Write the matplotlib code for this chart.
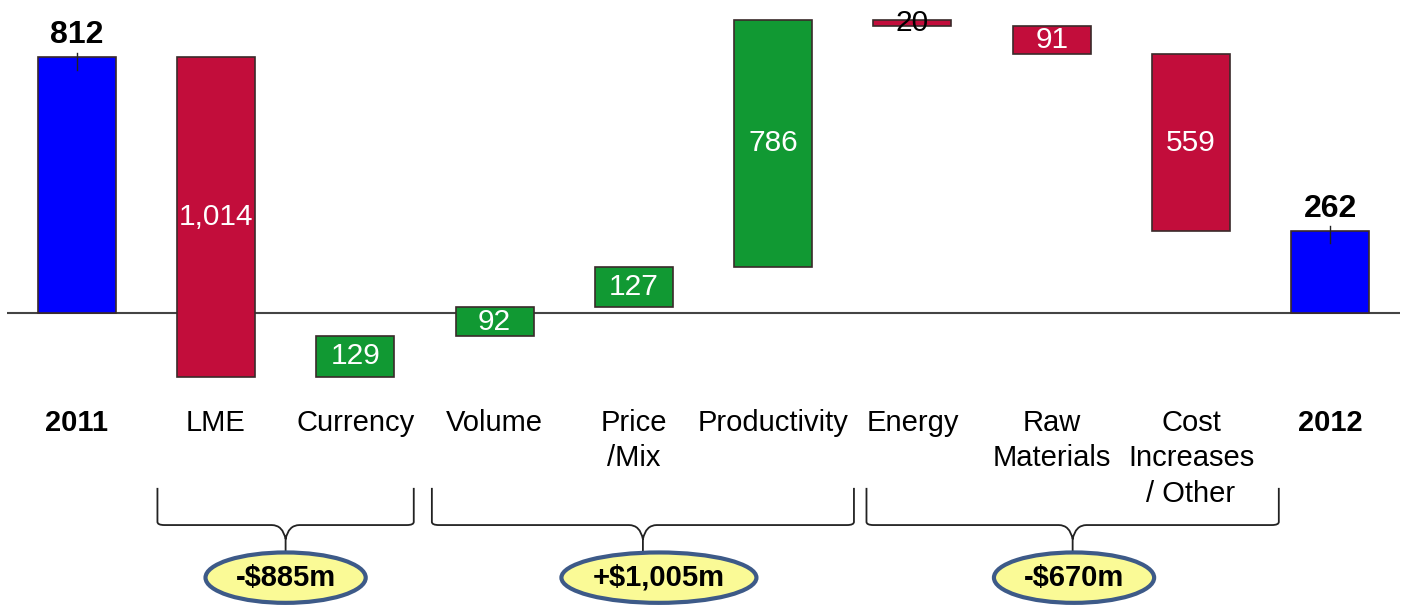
import matplotlib
matplotlib.use("Agg")
import matplotlib.pyplot as plt
from matplotlib.patches import Ellipse, PathPatch
from matplotlib.path import Path

plt.rcParams['font.family'] = ['Liberation Sans', 'DejaVu Sans']

# Bridge from 2011 to 2012 (US$ millions)
categories = ["2011", "LME", "Currency", "Volume", "Price\n/Mix", "Productivity",
              "Energy", "Raw\nMaterials", "Cost\nIncreases\n/ Other", "2012"]
changes = [812, -1014, 129, 92, 127, 786, -20, -91, -559, 262]
value_labels = ["812", "1,014", "129", "92", "127", "786", "20", "91", "559", "262"]
totals_idx = [0, 9]

# Grouped subtotals shown under the axis: (first bar, last bar, label)
groups = [(1, 2, "-$885m"), (3, 5, "+$1,005m"), (6, 8, "-$670m")]

BLUE = "#0000FF"
RED = "#C20D3B"
GREEN = "#119933"
EDGE = "#3a2a2a"

fig = plt.figure(figsize=(14.06, 6.06), dpi=100)
ax = fig.add_axes([7 / 1406, 0, 1393 / 1406, 1])
ax.set_xlim(-0.5, 9.5)
ax.set_ylim(-930, 994)
ax.axis("off")

width = 0.56
running = 0
for i, (cat, ch, lab) in enumerate(zip(categories, changes, value_labels)):
    if i in totals_idx:
        bottom, height, color = 0, ch, BLUE
        running = ch
    else:
        if ch >= 0:
            bottom, height, color = running, ch, GREEN
        else:
            bottom, height, color = running + ch, -ch, RED
        running += ch
    ax.bar(i, height, bottom=bottom, width=width, color=color,
           edgecolor=EDGE, linewidth=1.2, zorder=3)
    if i in totals_idx:
        top = bottom + height
        ax.plot([i, i], [top + 15, top - 40], color="#222222", lw=1, zorder=4)
        ax.text(i, top + 22, lab, ha="center", va="bottom", fontsize=23,
                fontweight="bold", color="black", zorder=5)
    else:
        txt_color = "black" if abs(ch) < 50 else "white"
        ax.text(i, bottom + height / 2, lab, ha="center", va="center",
                fontsize=21.5, color=txt_color, zorder=5)
    ax.text(i, -304, cat, ha="center", va="top", fontsize=21,
            fontweight="bold" if i in totals_idx else "normal",
            linespacing=1.34, color="black")

# zero line
ax.axhline(0, color="#444444", lw=1.5, zorder=2)


def brace(ax, x0, x1, xc, y_top, y_h, y_v, y_tip, r=0.05, ry=10):
    verts = [
        (x0, y_top), (x0, y_h + ry), (x0, y_h), (x0 + r, y_h),
        (xc - 0.1, y_h), (xc - 0.02, y_h), (xc, y_v), (xc, y_tip),
        (xc, y_v), (xc + 0.02, y_h), (xc + 0.1, y_h),
        (x1 - r, y_h), (x1, y_h), (x1, y_h + ry), (x1, y_top),
    ]
    codes = [Path.MOVETO, Path.LINETO, Path.CURVE3, Path.CURVE3,
             Path.LINETO, Path.CURVE3, Path.CURVE3, Path.LINETO,
             Path.MOVETO, Path.CURVE3, Path.CURVE3,
             Path.LINETO, Path.CURVE3, Path.CURVE3, Path.LINETO]
    ax.add_patch(PathPatch(Path(verts, codes), fill=False, edgecolor="#222222",
                           lw=1.3, zorder=3))


brace_bounds = [(0.58, 2.42), (2.55, 5.58), (5.67, 8.63)]
ellipse_x = [1.50, 4.18, 7.16]
ellipse_w = [1.15, 1.40, 1.15]
for (a, b, lab), (x0, x1), ex, ew in zip(groups, brace_bounds, ellipse_x, ellipse_w):
    xc = (x0 + x1) / 2
    brace(ax, x0, x1, xc, -555, -673, -718, -762)
    ax.add_patch(Ellipse((ex, -840), ew, 160, facecolor="#FAFA96",
                         edgecolor="#3D5A88", lw=3, zorder=4))
    ax.text(ex, -840, lab, ha="center", va="center", fontsize=21,
            fontweight="bold", color="black", zorder=5)

fig.savefig("out.png", dpi=100)
